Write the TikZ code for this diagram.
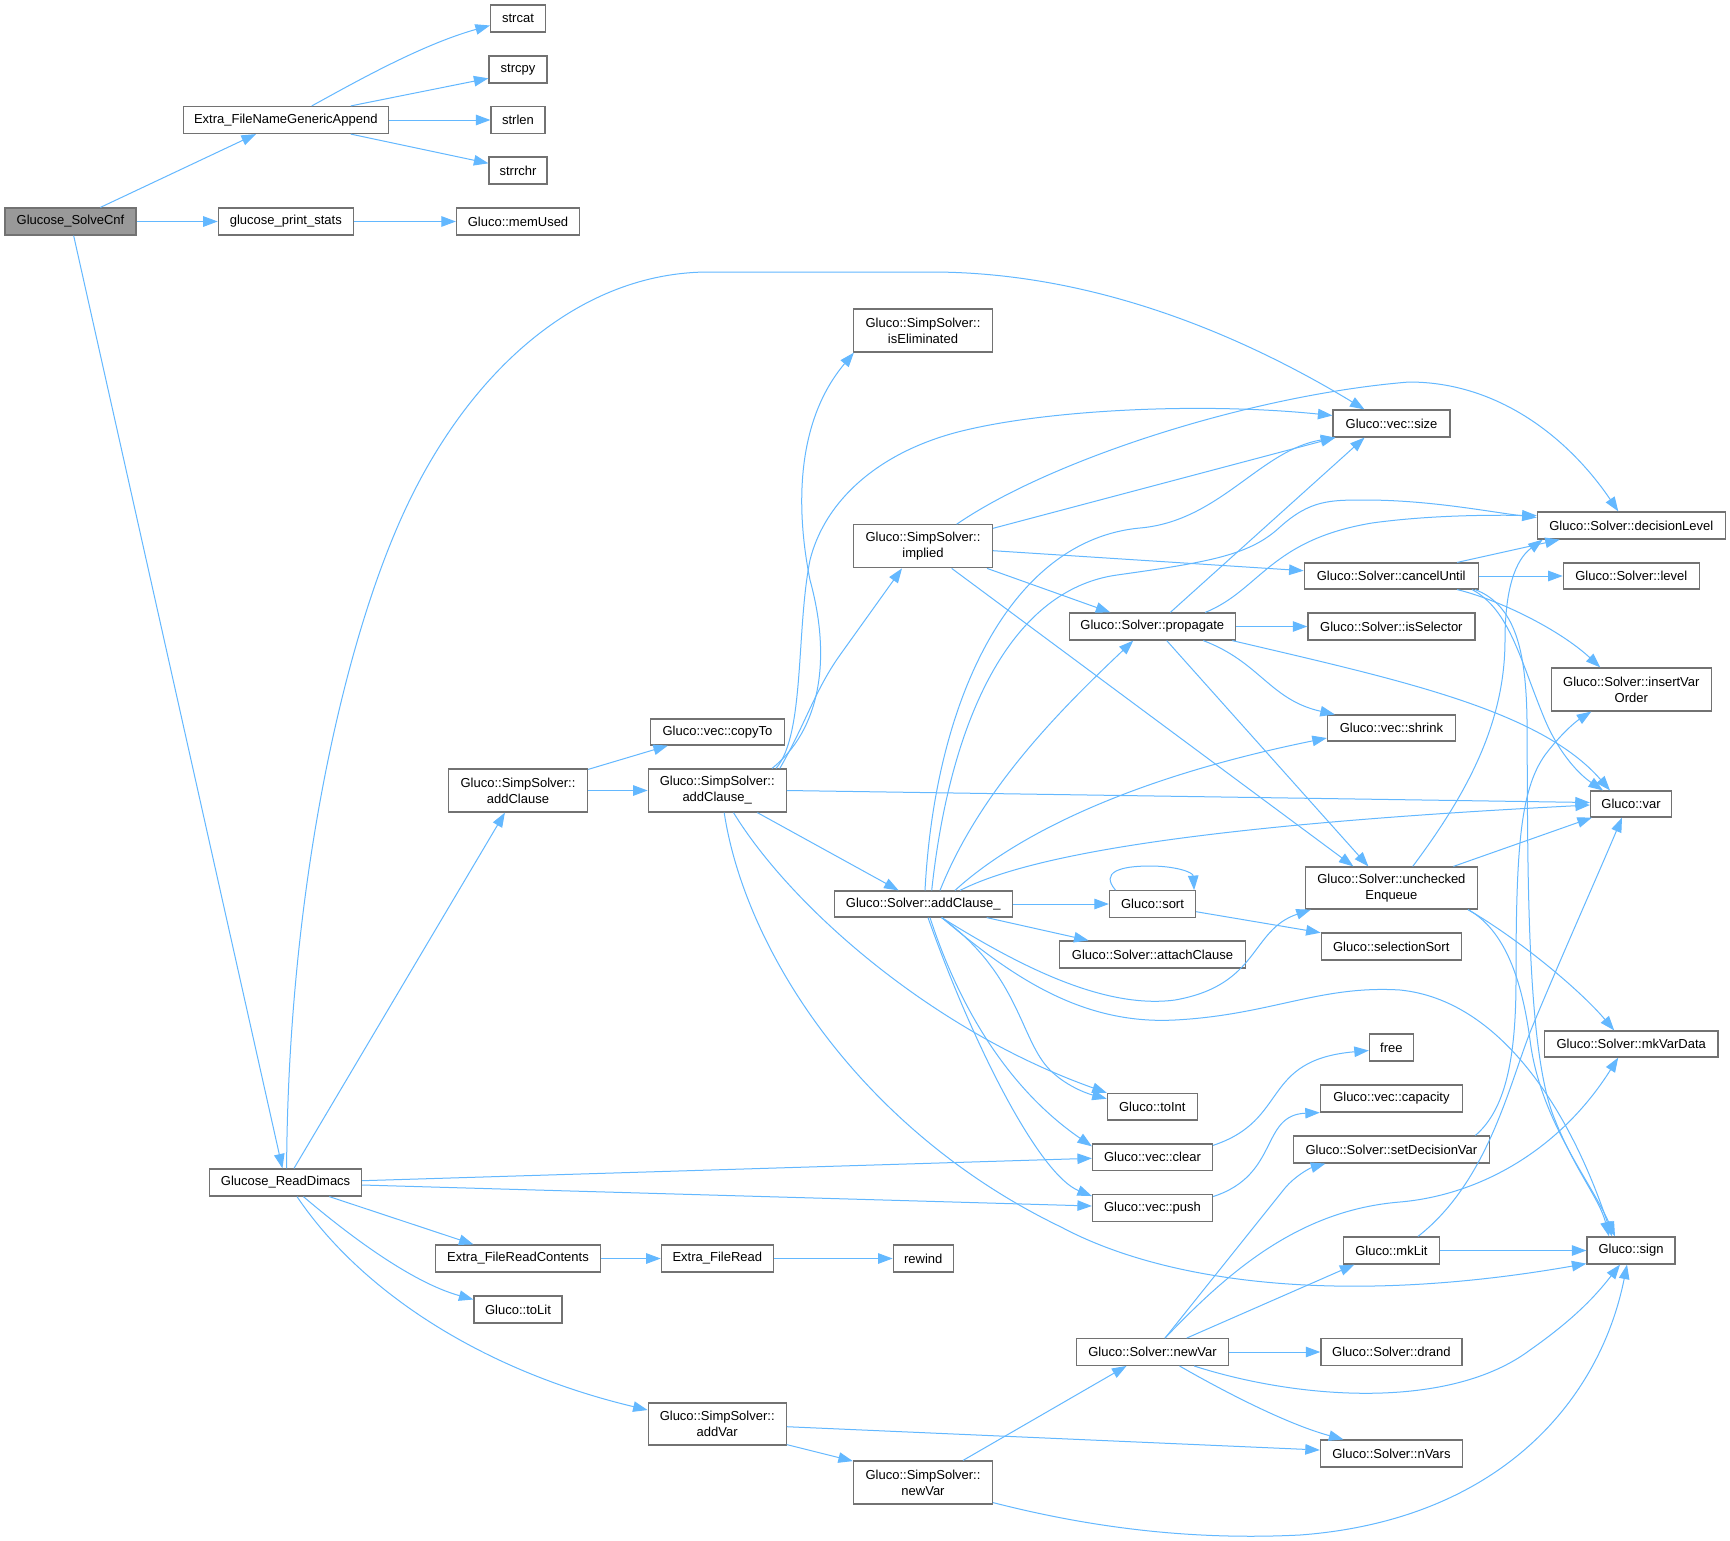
\documentclass[tikz,border=0pt]{standalone}
\usepackage{fontspec}
\setmainfont{Liberation Sans}
\usetikzlibrary{arrows.meta,calc}
\definecolor{edgecol}{HTML}{63B8FF}
\definecolor{boxcol}{HTML}{727272}
\definecolor{rootcol}{HTML}{999999}
\begin{document}
\begin{tikzpicture}[x=1pt,y=-1pt,
  box/.style={draw=boxcol, line width=1.2pt, fill=white, inner sep=0pt, align=center, font=\fontsize{13}{16}\selectfont},
  edge/.style={draw=edgecol, line width=1pt, -{Triangle[length=14.5pt,width=10.5pt]}}]
\useasboundingbox (0,0) rectangle (1730,1540);
\fill[white] (0,0) rectangle (1730,1540);
% nodes
\node[box, fill=rootcol, minimum width=131, minimum height=27] (solve) at (70.5,221.5) {Glucose\_SolveCnf};
\node[box, minimum width=205, minimum height=27] (append) at (285.8,120) {Extra\_FileNameGenericAppend};
\node[box, minimum width=135, minimum height=27] (pstats) at (285.8,221.5) {glucose\_print\_stats};
\node[box, minimum width=55, minimum height=27] (strcat) at (518,18.5) {strcat};
\node[box, minimum width=58, minimum height=27] (strcpy) at (518,69.5) {strcpy};
\node[box, minimum width=54, minimum height=27] (strlen) at (518,120) {strlen};
\node[box, minimum width=58, minimum height=27] (strrchr) at (518,170.5) {strrchr};
\node[box, minimum width=123, minimum height=27] (memused) at (518,221.5) {Gluco::memUsed};
\node[box, minimum width=152, minimum height=27] (readdimacs) at (285.6,1182.5) {Glucose\_ReadDimacs};
\node[box, minimum width=139, minimum height=43] (sac) at (518,790.5) {Gluco::SimpSolver::\\addClause};
\node[box, minimum width=134, minimum height=26] (copyto) at (717.5,732) {Gluco::vec::copyTo};
\node[box, minimum width=138, minimum height=43] (sacu) at (717.2,790.5) {Gluco::SimpSolver::\\addClause\_};
\node[box, minimum width=139, minimum height=43] (iselim) at (923,330.5) {Gluco::SimpSolver::\\isEliminated};
\node[box, minimum width=139, minimum height=43] (implied) at (923,546.3) {Gluco::SimpSolver::\\implied};
\node[box, minimum width=178, minimum height=26] (acu) at (923.3,904) {Gluco::Solver::addClause\_};
\node[box, minimum width=117, minimum height=27] (size) at (1391.5,423.5) {Gluco::vec::size};
\node[box, minimum width=166, minimum height=27] (propagate) at (1152.3,626.5) {Gluco::Solver::propagate};
\node[box, minimum width=86, minimum height=26.6] (sort) at (1152.5,904) {Gluco::sort};
\node[box, minimum width=186, minimum height=27] (attach) at (1152.5,954.5) {Gluco::Solver::attachClause};
\node[box, minimum width=90, minimum height=26.7] (toint) at (1152.3,1106.7) {Gluco::toInt};
\node[box, minimum width=120, minimum height=26.7] (clear) at (1152.5,1157.3) {Gluco::vec::clear};
\node[box, minimum width=120, minimum height=26.7] (push) at (1152.5,1208) {Gluco::vec::push};
\node[box, minimum width=60, minimum height=27] (rewind) at (923.2,1258.5) {rewind};
\node[box, minimum width=152, minimum height=26.7] (newvar) at (1152.5,1352) {Gluco::Solver::newVar};
\node[box, minimum width=188, minimum height=27] (declevel) at (1631.3,525.5) {Gluco::Solver::decisionLevel};
\node[box, minimum width=174, minimum height=26] (cancel) at (1391.2,576) {Gluco::Solver::cancelUntil};
\node[box, minimum width=136, minimum height=26] (level) at (1631.3,576) {Gluco::Solver::level};
\node[box, minimum width=167, minimum height=27] (issel) at (1391.4,626.5) {Gluco::Solver::isSelector};
\node[box, minimum width=160, minimum height=43] (insvo) at (1631.3,689.5) {Gluco::Solver::insertVar\\Order};
\node[box, minimum width=128, minimum height=26] (shrink) at (1391.4,728) {Gluco::vec::shrink};
\node[box, minimum width=81, minimum height=26] (var) at (1631,804) {Gluco::var};
\node[box, minimum width=172, minimum height=42] (enq) at (1391.4,888) {Gluco::Solver::unchecked\\Enqueue};
\node[box, minimum width=140, minimum height=27] (selsort) at (1391.2,946.5) {Gluco::selectionSort};
\node[box, minimum width=164.5, minimum height=27] (frc) at (518,1258.5) {Extra\_FileReadContents};
\node[box, minimum width=88, minimum height=27] (tolit) at (518,1309.5) {Gluco::toLit};
\node[box, minimum width=112, minimum height=27] (fileread) at (717.3,1258.5) {Extra\_FileRead};
\node[box, minimum width=138, minimum height=42] (addvar) at (717.2,1424) {Gluco::SimpSolver::\\addVar};
\node[box, minimum width=139, minimum height=43] (snewvar) at (923,1482.5) {Gluco::SimpSolver::\\newVar};
\node[box, minimum width=196, minimum height=27] (setdec) at (1391.4,1149.5) {Gluco::Solver::setDecisionVar};
\node[box, minimum width=44, minimum height=27] (free) at (1391.4,1047.5) {free};
\node[box, minimum width=142, minimum height=27] (capacity) at (1391.4,1098.5) {Gluco::vec::capacity};
\node[box, minimum width=173.5, minimum height=26] (mkvardata) at (1631.2,1044) {Gluco::Solver::mkVarData};
\node[box, minimum width=96, minimum height=27] (mklit) at (1391.4,1250.5) {Gluco::mkLit};
\node[box, minimum width=88, minimum height=27] (sign) at (1631,1250.5) {Gluco::sign};
\node[box, minimum width=141, minimum height=26.7] (drand) at (1391.4,1352) {Gluco::Solver::drand};
\node[box, minimum width=142, minimum height=27] (nvars) at (1391.4,1453.5) {Gluco::Solver::nVars};
% edges: top left
\draw[edge] (solve) -- (append);
\draw[edge] (solve) -- (pstats);
\draw[edge] (solve) -- (readdimacs);
\draw[edge] ($(append.north)+(26,0)$) .. controls (350,85) and (420,45) .. ($(strcat.west)+(0,7)$);
\draw[edge] ($(append.north)+(65,0)$) -- ($(strcpy.west)+(0,8.8)$);
\draw[edge] (append) -- (strlen);
\draw[edge] ($(append.south)+(65,0)$) -- ($(strrchr.west)+(0,-7.2)$);
\draw[edge] (pstats) -- (memused);
% ReadDimacs
\draw[edge] ($(readdimacs.north)+(1,0)$) .. controls (288,900) and (340,650) .. (405,510) .. controls (470,370) and (580,272) .. (709,272) -- (931,272) .. controls (1100,272) and (1250,340) .. ($(size.north)+(-27,0)$);
\draw[edge] (readdimacs) -- (sac);
\draw[edge] ($(readdimacs.east)+(0,-1.8)$) -- ($(clear.west)+(0,1)$);
\draw[edge] ($(readdimacs.east)+(0,2.5)$) -- ($(push.west)+(0,-2)$);
\draw[edge] ($(readdimacs.south)+(43.7,0)$) -- ($(frc.north)+(-44.5,0)$);
\draw[edge] ($(readdimacs.south)+(17.8,0)$) .. controls (345,1232) and (410,1282) .. ($(tolit.west)+(0,-10)$);
\draw[edge] ($(readdimacs.south)+(11.4,0)$) .. controls (360,1290) and (480,1370) .. ($(addvar.west)+(0,-14)$);
% SimpSolver::addClause
\draw[edge] ($(sac.north east)+(0,1)$) -- ($(copyto.south west)+(18,0)$);
\draw[edge] (sac) -- (sacu);
% SimpSolver::addClause_
\draw[edge] ($(sacu.north)+(54.8,0)$) .. controls (820,730) and (832,660) .. (810,580) .. controls (795,505) and (797,420) .. ($(iselim.south west)+(1,0)$);
\draw[edge] ($(sacu.north)+(58.8,0)$) .. controls (805,735) and (796,630) .. (810,560) .. controls (825,500) and (880,450) .. (966,430) .. controls (1050,410) and (1200,402) .. ($(size.west)+(0,-8)$);
\draw[edge] ($(sacu.north)+(62.6,0)$) .. controls (805,725) and (815,690) .. (840,655) -- ($(implied.south)+(-21,0)$);
\draw[edge] (sacu) -- (acu);
\draw[edge] (sacu.east) -- ($(var.west)+(0,-1.5)$);
\draw[edge] ($(sacu.south)+(16.3,0)$) .. controls (790,905) and (930,1030) .. (toint.north west);
\draw[edge] ($(sacu.south)+(7,0)$) .. controls (745,950) and (860,1130) .. (1061,1227) .. controls (1170,1285) and (1350,1305) .. ($(sign.south west)+(0,-1)$);
% implied
\draw[edge] ($(implied.east)+(0,-18)$) -- ($(size.south west)+(3,0)$);
\draw[edge] ($(implied.north)+(33.7,0)$) .. controls (1050,460) and (1250,395) .. (1409,382) .. controls (1500,382) and (1570,440) .. ($(declevel.north)+(-13,0)$);
\draw[edge] ($(implied.east)+(0,4.4)$) -- ($(cancel.west)+(0,-5.3)$);
\draw[edge] ($(implied.south east)+(-6,0)$) -- ($(propagate.north)+(-42,0)$);
\draw[edge] ($(implied.south)+(28.7,0)$) -- ($(enq.north)+(-38,0)$);
% Solver::addClause_
\draw[edge] ($(acu.north)+(1.7,0)$) .. controls (935,700) and (1010,540) .. (1140,528) .. controls (1220,521) and (1260,450) .. ($(size.south west)+(3,0)$);
\draw[edge] ($(acu.north)+(8.4,0)$) .. controls (950,720) and (1010,590) .. (1117,575) .. controls (1210,562) and (1250,555) .. (1280,527) .. controls (1310,500) and (1330,500) .. (1365,500) .. controls (1430,500) and (1490,512) .. ($(declevel.west)+(0,-8)$);
\draw[edge] ($(acu.north)+(16.7,0)$) .. controls (980,790) and (1060,710) .. ($(propagate.south)+(-19,0)$);
\draw[edge] ($(acu.north)+(31.7,0)$) .. controls (1010,840) and (1120,780) .. ($(shrink.west)+(0,10)$);
\draw[edge] ($(acu.north)+(36.7,0)$) .. controls (1030,855) and (1200,825) .. ($(var.west)+(0,1)$);
\draw[edge] (acu) -- (sort);
\draw[edge] ($(acu.south)+(63.4,0)$) -- ($(attach.north)+(-64,0)$);
\draw[edge] ($(acu.south)+(18.4,0)$) .. controls (1010,960) and (1100,1010) .. (1175,1000) .. controls (1260,985) and (1250,930) .. ($(enq.south west)+(6,0)$);
\draw[edge] ($(acu.south)+(18.4,0)$) .. controls (1010,975) and (1080,1025) .. (1175,1020) .. controls (1270,1015) and (1320,985) .. (1400,990) .. controls (1500,1000) and (1570,1110) .. ($(sign.north)+(-19,0)$);
\draw[edge] ($(acu.south)+(18.4,0)$) .. controls (1020,975) and (1020,1040) .. (1050,1070) .. controls (1065,1085) and (1085,1093) .. ($(toint.west)+(0,-8)$);
\draw[edge] ($(acu.south)+(6.7,0)$) .. controls (960,1010) and (1010,1090) .. ($(clear.north west)+(0,3)$);
\draw[edge] ($(acu.south)+(4.7,0)$) .. controls (975,1050) and (1040,1175) .. ($(push.north west)+(0,2)$);
% propagate
\draw[edge] ($(propagate.north)+(18,0)$) -- ($(size.south)+(-27,0)$);
\draw[edge] ($(propagate.north)+(53,0)$) .. controls (1260,590) and (1270,540) .. (1372,523) .. controls (1430,515) and (1490,515) .. ($(declevel.west)+(0,-10)$);
\draw[edge] (propagate) -- (issel);
\draw[edge] ($(propagate.south)+(51,0)$) .. controls (1260,662) and (1270,700) .. ($(shrink.north west)+(8,0)$);
\draw[edge] ($(propagate.south)+(80,0)$) .. controls (1400,680) and (1540,710) .. ($(var.north)+(-21,0)$);
\draw[edge] ($(propagate.south)+(14.4,0)$) -- ($(enq.north)+(-23,0)$);
% cancelUntil
\draw[edge] ($(cancel.north)+(66,0)$) -- ($(declevel.south west)+(23,0)$);
\draw[edge] (cancel) -- (level);
\draw[edge] ($(cancel.south)+(66,0)$) .. controls (1500,600) and (1560,630) .. ($(insvo.north)+(-31,0)$);
\draw[edge] ($(cancel.south)+(81,0)$) .. controls (1510,610) and (1520,660) .. (1545,720) .. controls (1560,755) and (1580,775) .. ($(var.north)+(-28,0)$);
\draw[edge] ($(cancel.south)+(84,0)$) .. controls (1515,605) and (1526,650) .. (1527,720) .. controls (1528,850) and (1525,1050) .. (1555,1120) .. controls (1575,1170) and (1600,1200) .. ($(sign.north)+(-22,0)$);
% uncheckedEnqueue
\draw[edge] ($(enq.north)+(21.3,0)$) .. controls (1470,790) and (1505,720) .. (1505,640) .. controls (1505,590) and (1515,560) .. ($(declevel.south west)+(6,0)$);
\draw[edge] ($(enq.north)+(62,0)$) -- ($(var.south west)+(2,0)$);
\draw[edge] ($(enq.south)+(76.6,0)$) .. controls (1505,930) and (1522,980) .. (1530,1040) .. controls (1540,1120) and (1590,1180) .. ($(sign.north)+(-16,0)$);
\draw[edge] ($(enq.south)+(76.6,0)$) .. controls (1520,940) and (1580,990) .. ($(mkvardata.north)+(-17,0)$);
% sort
\draw[edge] ($(sort.north)+(-37,0)$) .. controls (1100,872) and (1120,866) .. (1150,866) .. controls (1175,866) and (1193,872) .. ($(sort.north east)+(-2,0)$);
\draw[edge] ($(sort.east)+(0,7.7)$) -- ($(selsort.north west)+(0,0.3)$);
% vec
\draw[edge] ($(clear.north east)+(0,2)$) .. controls (1290,1120) and (1260,1060) .. ($(free.west)+(0,3)$);
\draw[edge] ($(push.north east)+(0,2.5)$) .. controls (1280,1175) and (1260,1115) .. (capacity.south west);
% file read
\draw[edge] (frc) -- (fileread);
\draw[edge] (fileread) -- (rewind);
% addVar
\draw[edge] ($(addvar.south east)+(0,-1)$) -- ($(snewvar.north west)+(0,0.7)$);
\draw[edge] ($(addvar.east)+(0,2.7)$) -- ($(nvars.west)+(0,-3.5)$);
% SimpSolver::newVar
\draw[edge] ($(snewvar.north)+(40,0)$) -- ($(newvar.south)+(-26,0)$);
\draw[edge] ($(snewvar.south east)+(0,-2)$) .. controls (1100,1530) and (1200,1540) .. (1300,1535) .. controls (1500,1520) and (1600,1400) .. ($(sign.south)+(-4,0)$);
% Solver::newVar
\draw[edge] ($(newvar.north)+(12.5,0)$) -- (1285,1188) .. controls (1295,1176) and (1310,1168) .. ($(setdec.south)+(-66,0)$);
\draw[edge] ($(newvar.north)+(12.5,0)$) .. controls (1230,1270) and (1300,1210) .. (1400,1202) .. controls (1480,1195) and (1560,1150) .. ($(mkvardata.south)+(-13,0)$);
\draw[edge] ($(newvar.north)+(34.2,0)$) -- ($(mklit.south)+(-37,0)$);
\draw[edge] (newvar) -- (drand);
\draw[edge] ($(newvar.south)+(41.5,0)$) .. controls (1300,1400) and (1450,1410) .. (1530,1350) .. controls (1580,1315) and (1600,1290) .. ($(sign.south)+(-11,0)$);
\draw[edge] ($(newvar.south)+(27,0)$) .. controls (1230,1395) and (1290,1425) .. ($(nvars.north)+(-48,0)$);
% setDecisionVar
\draw[edge] ($(setdec.north)+(84,0)$) .. controls (1505,1110) and (1516,1060) .. (1516,980) .. controls (1516,850) and (1520,790) .. (1545,755) .. controls (1560,735) and (1575,722) .. ($(insvo.south)+(-40,0)$);
% mkLit
\draw[edge] (mklit) -- (sign);
\draw[edge] ($(mklit.north)+(26.6,0)$) .. controls (1490,1180) and (1510,1080) .. (1533,1025) .. controls (1560,960) and (1600,870) .. ($(var.south)+(-9,0)$);
\end{tikzpicture}
\end{document}
